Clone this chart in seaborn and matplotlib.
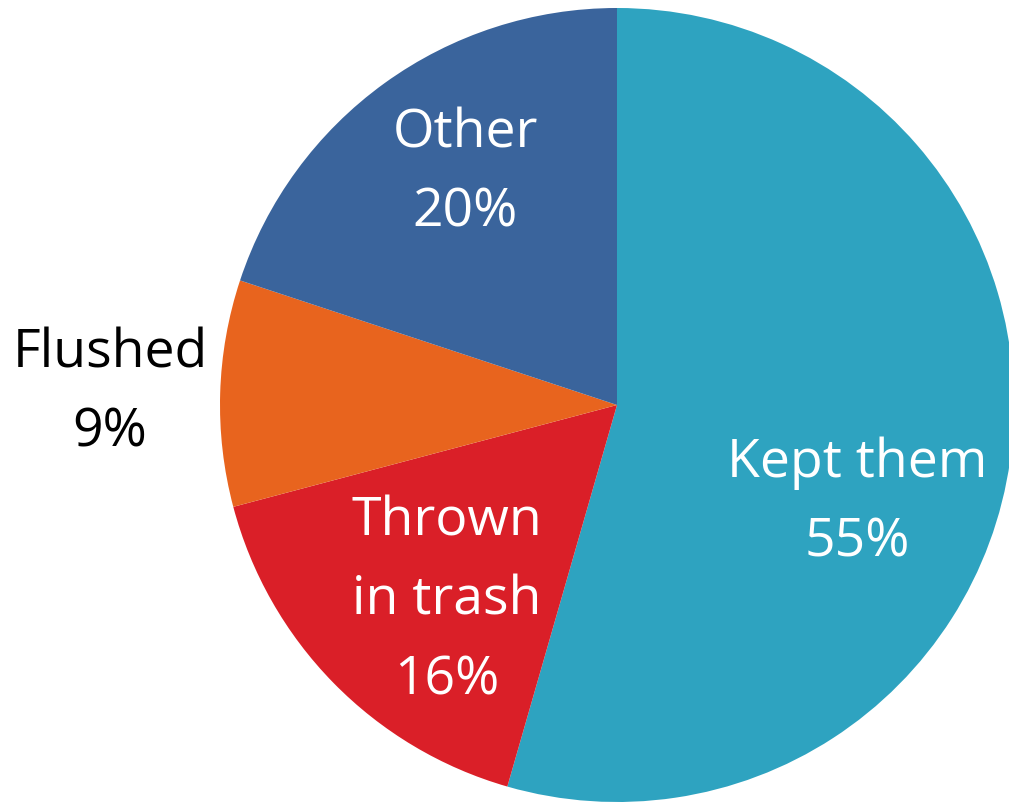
import matplotlib
matplotlib.use("Agg")
import matplotlib.pyplot as plt
import seaborn as sns

# data
labels = ['Kept them', 'Thrown\nin trash', 'Flushed', 'Other']
shares = [54.4, 16.4, 9.2, 19.9]          # wedge sizes
pct_labels = ['55%', '16%', '9%', '20%']  # printed labels
colors = ['#2EA3C0', '#DA1F28', '#E8641E', '#3A649C']

sns.set_style("white")
plt.rcParams['font.family'] = ['Open Sans', 'DejaVu Sans']

fig = plt.figure(figsize=(10.09, 8.02), dpi=100)
# pie centre ~ (617, 405) px, radius ~ 397 px
r_px = 397
ax = fig.add_axes([(617 - r_px) / 1009, (802 - 405 - r_px) / 802,
                   2 * r_px / 1009, 2 * r_px / 802])

wedges, _ = ax.pie(shares, colors=colors, startangle=90, counterclock=False,
                   radius=1, wedgeprops={'linewidth': 0})
ax.set_xlim(-1, 1)
ax.set_ylim(-1, 1)
ax.set_aspect('equal')
ax.axis('off')

# label positions (relative to pie centre, in radius units)
pos = [(0.605, -0.247), (-0.428, -0.494), (-1.277, 0.03), (-0.383, 0.584)]
for lab, pct, (x, y) in zip(labels, pct_labels, pos):
    col = 'black' if lab == 'Flushed' else 'white'
    ax.text(x, y, f'{lab}\n{pct}', ha='center', va='center', fontsize=38.5,
            color=col, linespacing=1.64, clip_on=False)

fig.savefig('out.png', dpi=100)
